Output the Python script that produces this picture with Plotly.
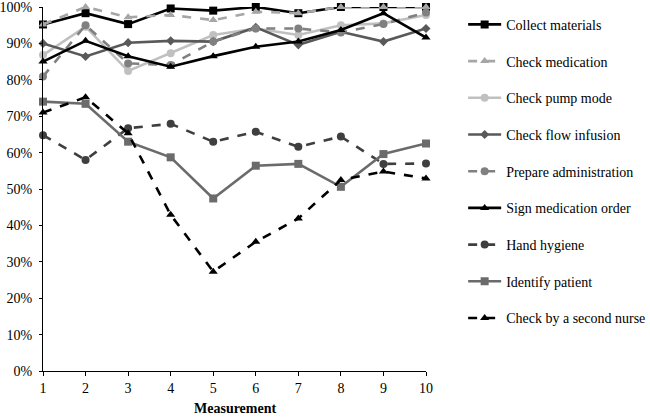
import plotly.graph_objects as go

measurement = [1, 2, 3, 4, 5, 6, 7, 8, 9, 10]

collect_materials = [95.2, 98.3, 95.3, 99.6, 99.0, 100.0, 98.3, 100.0, 100.0, 100.0]
check_medication = [95.2, 100.0, 97.2, 97.8, 96.4, 98.7, 98.3, 100.0, 100.0, 100.0]
check_pump_mode = [86.8, 94.6, 82.4, 87.3, 92.3, 94.1, 92.3, 95.0, 95.5, 97.8]
check_flow_infusion = [90.0, 86.4, 90.2, 90.7, 90.5, 94.4, 89.6, 93.2, 90.5, 94.1]
prepare_administration = [80.9, 95.0, 84.5, 84.1, 90.5, 94.1, 94.1, 93.0, 95.3, 98.5]
sign_medication_order = [85.0, 90.7, 86.5, 83.6, 86.5, 89.1, 90.5, 93.7, 98.3, 91.6]
hand_hygiene = [64.8, 58.0, 66.7, 67.9, 63.0, 65.7, 61.6, 64.4, 56.9, 57.0]
identify_patient = [74.0, 73.4, 63.0, 58.7, 47.4, 56.4, 56.9, 50.6, 59.6, 62.5]
second_nurse = [71.0, 75.2, 65.3, 42.9, 27.3, 35.5, 41.9, 52.5, 54.8, 52.9]

y_ticks = [0, 10, 20, 30, 40, 50, 60, 70, 80, 90, 100]
y_tick_labels = ["0%", "10%", "20%", "30%", "40%", "50%", "60%", "70%", "80%", "90%", "100%"]

series = [
    ("Collect materials", collect_materials, "#000000", "solid", "square"),
    ("Check medication", check_medication, "#a6a6a6", "dash", "triangle-up"),
    ("Check pump mode", check_pump_mode, "#c0c0c0", "solid", "circle"),
    ("Check flow infusion", check_flow_infusion, "#595959", "solid", "diamond"),
    ("Prepare administration", prepare_administration, "#808080", "dash", "circle"),
    ("Sign medication order", sign_medication_order, "#000000", "solid", "triangle-up"),
    ("Hand hygiene", hand_hygiene, "#3f3f3f", "dash", "circle"),
    ("Identify patient", identify_patient, "#6b6b6b", "solid", "square"),
    ("Check by a second nurse", second_nurse, "#000000", "dash", "triangle-up"),
]

fig = go.Figure()
for i, (name, vals, color, dash, sym) in enumerate(series):
    fig.add_trace(go.Scatter(
        x=measurement, y=vals, name=name, mode="lines+markers",
        line=dict(color=color, width=2.6, dash=dash),
        marker=dict(symbol=sym, size=8 if sym != "diamond" else 7, color=color),
        cliponaxis=False, legendgroup=f"g{i}",
    ))

font = "Liberation Serif"
fig.update_layout(
    width=650, height=418,
    margin=dict(l=43, r=224, t=7, b=47, autoexpand=False),
    paper_bgcolor="white", plot_bgcolor="white",
    font=dict(family=font, size=14, color="#000000"),
    showlegend=True,
    legend=dict(x=1.097, y=0.995, xanchor="left", yanchor="top",
                font=dict(family=font, size=14, color="#000000"),
                tracegroupgap=15.5, itemwidth=33, bgcolor="rgba(0,0,0,0)"),
    xaxis=dict(range=[1, 10], tickvals=measurement, showgrid=False, zeroline=False,
               showline=True, linecolor="#000000", linewidth=1.2, automargin=False,
               ticks="outside", ticklen=4, tickcolor="#000000",
               tickfont=dict(family=font, size=14)),
    yaxis=dict(range=[0, 100], tickvals=y_ticks, ticktext=y_tick_labels,
               showgrid=False, zeroline=False, ticklabeloverflow="allow",
               showline=True, linecolor="#000000", linewidth=1.2, automargin=False,
               ticks="outside", ticklen=3, tickcolor="#000000", ticklabelstandoff=4,
               tickfont=dict(family=font, size=14)),
    annotations=[dict(text="<b>Measurement</b>", x=0.5, y=-0.104, xref="paper", yref="paper",
                      xanchor="center", yanchor="middle", showarrow=False,
                      font=dict(family=font, size=14, color="#000000"))],
)

fig.write_html("out.html", config={"displayModeBar": False},
               post_script="document.body.style.margin='0';document.body.style.padding='0';")
